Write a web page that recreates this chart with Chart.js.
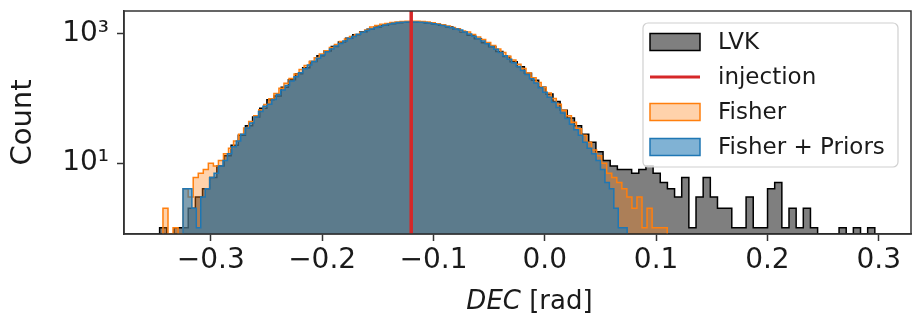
<!DOCTYPE html>
<html>
<head>
<meta charset="utf-8">
<script src="https://cdn.jsdelivr.net/npm/chart.js@4.4.0/dist/chart.umd.min.js"></script>
<style>
html,body{margin:0;padding:0;background:#fff;}
#wrap{width:918px;height:324px;position:relative;}
</style>
</head>
<body>
<div id="wrap"><canvas id="c" width="918" height="324"></canvas></div>
<script>
// ---- data ----
const seriesNames = ['LVK', 'injection', 'Fisher', 'Fisher + Priors'];
const injectionValue = -0.12;

const lvkStart = -0.346, lvkWidth = 0.006425;
const lvkCounts = [
  1,0,1,1,2,3,4,6,9,13,
  19,27,38,52,71,96,110,150,195,243,
  300,375,460,545,640,750,860,970,1080,1185,
  1285,1370,1440,1490,1520,1530,1515,1480,1425,1360,
  1280,1190,1075,960,845,735,632,536,450,372,
  310,246,192,150,118,90,66,50,38,28,
  21,15,11,9,8,8,7,8,9,7,
  5,4,3,6,1,3,6,3,2,2,
  1,1,3,1,1,4,5,1,2,1,
  2,1,0,0,0,1,0,1,0,1
];

const fisherStart = -0.343, fisherWidth = 0.00453;
const fisherCounts = [
  2,0,1,0,4,3,6,7,8,10,
  9,11,14,17,22,28,35,44,54,67,
  81,99,120,144,172,204,240,281,326,376,
  430,489,552,619,689,762,836,911,986,1060,
  1150,1280,1350,1410,1460,1500,1535,1560,1575,1580,
  1572,1555,1530,1490,1445,1385,1330,1262,1190,1115,
  1072,986,902,820,739,661,586,517,452,395,
  341,293,250,211,177,148,122,100,82,66,
  54,43,34,27,21,16,13,10,7,6,
  5,4,3,2,3,1,2,1,1,1
];

const priorsStart = -0.325, priorsWidth = 0.00399;
const priorsCounts = [
  4,4,2,1,3,4,6,7,9,11,
  14,18,22,28,35,42,52,63,76,82,
  97,116,136,160,187,217,251,289,330,374,
  422,474,530,588,650,714,780,848,918,988,
  1060,1130,1196,1262,1322,1378,1428,1470,1500,1520,
  1535,1540,1538,1525,1505,1480,1446,1405,1358,1305,
  1250,1190,1148,1072,1000,925,852,779,709,642,
  578,517,460,408,359,314,273,236,203,174,
  147,125,105,88,73,60,49,40,33,27,
  21,17,14,11,8,5,4,2,1,1
];

const xTicks = [-0.3, -0.2, -0.1, 0.0, 0.1, 0.2, 0.3];
const yTicks = [10, 1000];
const yTickLabels = ['10\u00b9', '10\u00b3'];

// ---- axis range ----
const X_MIN = -0.378, X_MAX = 0.329;
const Y_MIN = 0.8, Y_MAX = 2270;

const FONT = '"DejaVu Sans", "Liberation Sans", sans-serif';
const TICK_FS = 28, XTITLE_FS = 26, YTITLE_FS = 29, LEGEND_FS = 23;

// build step outline points (bin left edges) for a stepped line
function histPoints(start, width, counts) {
  const pts = [{x: start, y: Y_MIN}];
  counts.forEach((c, i) => pts.push({x: start + i * width, y: c > 0 ? c : Y_MIN}));
  pts.push({x: start + counts.length * width, y: Y_MIN});
  return pts;
}

const colors = {
  lvk: {fill: 'rgba(0,0,0,0.5)', line: '#000000'},
  inj: {line: '#d62728'},
  fisher: {fill: 'rgba(255,127,14,0.35)', line: '#ff7f0e'},
  priors: {fill: 'rgba(31,119,180,0.57)', line: '#1f77b4'}
};

const histCommon = {
  type: 'line', stepped: true, pointRadius: 0, borderWidth: 1.5,
  fill: 'start', tension: 0
};

const datasets = [
  Object.assign({}, histCommon, {
    label: seriesNames[0], data: histPoints(lvkStart, lvkWidth, lvkCounts),
    backgroundColor: colors.lvk.fill, borderColor: colors.lvk.line, order: 4
  }),
  {
    type: 'line', label: seriesNames[1],
    data: [{x: injectionValue, y: Y_MIN}, {x: injectionValue, y: Y_MAX}],
    borderColor: colors.inj.line, backgroundColor: colors.inj.line,
    borderWidth: 3.5, pointRadius: 0, fill: false, order: 1
  },
  Object.assign({}, histCommon, {
    label: seriesNames[2], data: histPoints(fisherStart, fisherWidth, fisherCounts),
    backgroundColor: colors.fisher.fill, borderColor: colors.fisher.line, order: 3
  }),
  Object.assign({}, histCommon, {
    label: seriesNames[3], data: histPoints(priorsStart, priorsWidth, priorsCounts),
    backgroundColor: colors.priors.fill, borderColor: colors.priors.line, order: 2
  })
];

function fmtX(v) {
  const s = (Math.abs(v) < 1e-9 ? 0 : v).toFixed(1);
  return s.replace('-', '\u2212');
}

const decorations = {
  id: 'decorations',
  afterDraw(chart) {
    const {ctx, chartArea: a} = chart;
    ctx.save();
    // axes frame (all four spines)
    ctx.strokeStyle = '#333';
    ctx.lineWidth = 1.5;
    ctx.strokeRect(a.left, a.top, a.right - a.left, a.bottom - a.top);

    // legend box
    const lx = a.right - 268, ly = a.top + 12, lw = 255, lh = 144, r = 5;
    ctx.beginPath();
    ctx.moveTo(lx + r, ly);
    ctx.arcTo(lx + lw, ly, lx + lw, ly + lh, r);
    ctx.arcTo(lx + lw, ly + lh, lx, ly + lh, r);
    ctx.arcTo(lx, ly + lh, lx, ly, r);
    ctx.arcTo(lx, ly, lx + lw, ly, r);
    ctx.closePath();
    ctx.fillStyle = 'rgba(255,255,255,0.8)';
    ctx.fill();
    ctx.strokeStyle = '#d0d0d0';
    ctx.lineWidth = 1.2;
    ctx.stroke();

    const ds = chart.data.datasets;
    ctx.font = LEGEND_FS + 'px ' + FONT;
    ctx.textBaseline = 'middle';
    ctx.textAlign = 'left';
    ds.forEach((d, k) => {
      const cy = ly + 19 + 35 * k;
      const px = lx + 7, pw = 50, ph = 17;
      if (k === 1) {
        ctx.strokeStyle = d.borderColor;
        ctx.lineWidth = 3;
        ctx.beginPath();
        ctx.moveTo(px, cy);
        ctx.lineTo(px + pw, cy);
        ctx.stroke();
      } else {
        ctx.fillStyle = '#fff';
        ctx.fillRect(px, cy - ph / 2, pw, ph);
        ctx.fillStyle = d.backgroundColor;
        ctx.fillRect(px, cy - ph / 2, pw, ph);
        ctx.strokeStyle = d.borderColor;
        ctx.lineWidth = 1.5;
        ctx.strokeRect(px, cy - ph / 2, pw, ph);
      }
      ctx.fillStyle = '#1a1a1a';
      ctx.fillText(d.label, lx + 75, cy + 1);
    });

    // x axis title: italic "DEC" + " [rad]"
    const t1 = 'DEC', t2 = ' [rad]';
    ctx.font = 'italic ' + XTITLE_FS + 'px ' + FONT;
    const w1 = ctx.measureText(t1).width;
    ctx.font = XTITLE_FS + 'px ' + FONT;
    const w2 = ctx.measureText(t2).width;
    const cx = (a.left + a.right) / 2 + 12;
    const ty = 302;
    const x0 = cx - (w1 + w2) / 2;
    ctx.fillStyle = '#1a1a1a';
    ctx.textBaseline = 'middle';
    ctx.font = 'italic ' + XTITLE_FS + 'px ' + FONT;
    ctx.fillText(t1, x0, ty);
    ctx.font = XTITLE_FS + 'px ' + FONT;
    ctx.fillText(t2, x0 + w1, ty);
    ctx.restore();
  }
};

new Chart(document.getElementById('c'), {
  type: 'line',
  data: {datasets},
  options: {
    responsive: false,
    animation: false,
    devicePixelRatio: 1,
    layout: {padding: {left: 0, right: 7, top: 11, bottom: 0}},
    plugins: {legend: {display: false}, tooltip: {enabled: false}},
    scales: {
      x: {
        type: 'linear', min: X_MIN, max: X_MAX,
        afterBuildTicks: s => { s.ticks = xTicks.map(v => ({value: v})); },
        ticks: {
          callback: v => fmtX(v), autoSkip: false, maxRotation: 0,
          font: {family: FONT, size: TICK_FS}, color: '#1a1a1a', padding: 3
        },
        grid: {drawOnChartArea: false, drawTicks: true, tickLength: 7, tickColor: '#333', tickWidth: 1.5},
        border: {display: true, color: '#333', width: 1.5},
        afterFit: s => { s.height = 90; s.paddingLeft = 0; s.paddingRight = 0; }
      },
      y: {
        type: 'logarithmic', min: Y_MIN, max: Y_MAX,
        afterBuildTicks: s => { s.ticks = yTicks.map(v => ({value: v})); },
        ticks: {
          callback: (v, i) => yTickLabels[i],
          font: {family: FONT, size: TICK_FS}, color: '#1a1a1a', padding: 8
        },
        grid: {drawOnChartArea: false, drawTicks: true, tickLength: 7, tickColor: '#333', tickWidth: 1.5},
        border: {display: true, color: '#333', width: 1.5},
        title: {display: true, text: 'Count', font: {family: FONT, size: YTITLE_FS}, color: '#1a1a1a', padding: {top: 6, bottom: 0}},
        afterFit: s => { s.width = 124; s.paddingTop = 0; s.paddingBottom = 0; }
      }
    }
  },
  plugins: [decorations]
});
</script>
</body>
</html>
